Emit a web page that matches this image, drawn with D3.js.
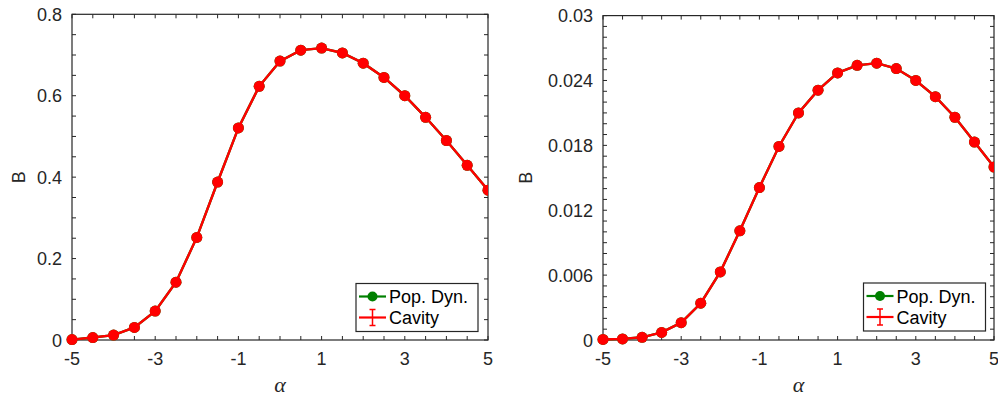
<!DOCTYPE html>
<html lang="en">
<head>
<meta charset="UTF-8">
<title>B vs alpha</title>
<script src="https://cdn.jsdelivr.net/npm/d3@7"></script>
<style>
    html, body { margin: 0; padding: 0; background: #fff; }
    svg { display: block; font-family: "Liberation Sans", Arial, sans-serif; }
</style>
</head>
<body>
<svg id="chart" width="998" height="399"></svg>
<script>
    // alpha values shared by both panels
    const alphas = [-5, -4.5, -4, -3.5, -3, -2.5, -2, -1.5, -1, -0.5, 0, 0.5, 1, 1.5, 2, 2.5, 3, 3.5, 4, 4.5, 5];

    // left panel
    const leftPop = [0.001, 0.006, 0.012, 0.031, 0.071, 0.142, 0.252, 0.388, 0.521, 0.623, 0.685, 0.712, 0.717, 0.705, 0.680, 0.645, 0.600, 0.547, 0.490, 0.429, 0.368];
    const leftCavity = [0.001, 0.006, 0.012, 0.031, 0.071, 0.142, 0.252, 0.388, 0.521, 0.623, 0.685, 0.712, 0.717, 0.705, 0.680, 0.645, 0.600, 0.547, 0.490, 0.429, 0.368];
    const leftYTicks = [0, 0.2, 0.4, 0.6, 0.8];

    // right panel
    const rightPop = [0.00005, 0.0001, 0.00025, 0.0007, 0.0016, 0.0034, 0.0063, 0.0101, 0.0141, 0.0179, 0.0210, 0.0231, 0.0247, 0.0254, 0.0256, 0.0251, 0.0240, 0.0225, 0.0206, 0.0183, 0.0160];
    const rightCavity = [0.00005, 0.0001, 0.00025, 0.0007, 0.0016, 0.0034, 0.0063, 0.0101, 0.0141, 0.0179, 0.0210, 0.0231, 0.0247, 0.0254, 0.0256, 0.0251, 0.0240, 0.0225, 0.0206, 0.0183, 0.0160];
    const rightYTicks = [0, 0.006, 0.012, 0.018, 0.024, 0.03];

    const xTicks = [-5, -3, -1, 1, 3, 5];
    const legendLabels = ['Pop. Dyn.', 'Cavity'];

    const svg = d3.select('#chart');
    const axisColor = '#262626';

    function drawPanel(opts) {
        const x = d3.scaleLinear().domain([-5, 5]).range([opts.left, opts.right]);
        const y = d3.scaleLinear().domain(opts.yDomain).range([opts.bottom, opts.top]);
        const g = svg.append('g');

        // minor ticks (inward, all four sides)
        const xMinor = d3.range(-5, 5.01, 0.5);
        const yMinor = d3.range(0, opts.yDomain[1] + opts.yMinorStep / 2, opts.yMinorStep);
        const tl = 4;
        xMinor.forEach(v => {
            g.append('line').attr('x1', x(v)).attr('x2', x(v)).attr('y1', opts.bottom).attr('y2', opts.bottom - tl)
                .attr('stroke', axisColor);
            g.append('line').attr('x1', x(v)).attr('x2', x(v)).attr('y1', opts.top).attr('y2', opts.top + tl)
                .attr('stroke', axisColor);
        });
        yMinor.forEach(v => {
            g.append('line').attr('x1', opts.left).attr('x2', opts.left + tl).attr('y1', y(v)).attr('y2', y(v))
                .attr('stroke', axisColor);
            g.append('line').attr('x1', opts.right).attr('x2', opts.right - tl).attr('y1', y(v)).attr('y2', y(v))
                .attr('stroke', axisColor);
        });

        // box
        g.append('rect').attr('x', opts.left).attr('y', opts.top)
            .attr('width', opts.right - opts.left).attr('height', opts.bottom - opts.top)
            .attr('fill', 'none').attr('stroke', axisColor).attr('stroke-width', 1.2);

        // tick labels
        g.selectAll('.xl').data(xTicks).enter().append('text')
            .attr('x', d => x(d)).attr('y', opts.bottom + 25)
            .attr('text-anchor', 'middle').attr('font-size', 18).attr('fill', axisColor)
            .text(d => d);
        g.selectAll('.yl').data(opts.yTicks).enter().append('text')
            .attr('x', opts.left - 10).attr('y', d => y(d) + 6.5)
            .attr('text-anchor', 'end').attr('font-size', 18).attr('fill', axisColor)
            .text(d => d === 0 ? '0' : d3.format(opts.yFmt)(d));

        // axis labels
        g.append('text')
            .attr('transform', `translate(${opts.yLabelX},${(opts.top + opts.bottom) / 2}) rotate(-90)`)
            .attr('text-anchor', 'middle').attr('font-size', 18).attr('fill', axisColor).text('B');
        g.append('text')
            .attr('x', (opts.left + opts.right) / 2).attr('y', 392)
            .attr('text-anchor', 'middle').attr('font-size', 22).attr('fill', axisColor)
            .attr('font-family', '"Liberation Serif", "DejaVu Serif", serif').attr('font-style', 'italic')
            .text('α');

        // clip to the axes box
        const clipId = 'clip' + opts.id;
        svg.append('clipPath').attr('id', clipId).append('rect')
            .attr('x', opts.left - 7).attr('y', opts.top)
            .attr('width', opts.right - opts.left + 7).attr('height', opts.bottom - opts.top + 7);

        const line = d3.line().x(d => x(d[0])).y(d => y(d[1]));
        const plot = svg.append('g').attr('clip-path', `url(#${clipId})`);

        const series = [
            { vals: opts.pop, color: '#008000' },
            { vals: opts.cav, color: '#ff0000' }
        ];
        series.forEach(s => {
            const pts = alphas.map((a, i) => [a, s.vals[i]]);
            plot.append('path').datum(pts).attr('d', line)
                .attr('fill', 'none').attr('stroke', s.color).attr('stroke-width', 2.4);
            plot.selectAll(null).data(pts).enter().append('circle')
                .attr('cx', d => x(d[0])).attr('cy', d => y(d[1])).attr('r', 5.5)
                .attr('fill', s.color);
        });

        // legend
        const lg = svg.append('g').attr('transform', `translate(${opts.legX},${opts.legY})`);
        lg.append('rect').attr('width', 122).attr('height', 48)
            .attr('fill', '#fff').attr('stroke', axisColor).attr('stroke-width', 1.2);
        const rows = [
            { color: '#008000', dy: 13 },
            { color: '#ff0000', dy: 34 }
        ];
        rows.forEach((r, i) => {
            lg.append('line').attr('x1', 3).attr('x2', 30).attr('y1', r.dy).attr('y2', r.dy)
                .attr('stroke', r.color).attr('stroke-width', 2.2);
            if (i === 0) {
                lg.append('circle').attr('cx', 16.5).attr('cy', r.dy).attr('r', 5).attr('fill', r.color);
            } else {
                lg.append('line').attr('x1', 16.5).attr('x2', 16.5).attr('y1', r.dy - 8).attr('y2', r.dy + 8)
                    .attr('stroke', r.color).attr('stroke-width', 1.5);
                lg.append('line').attr('x1', 13.5).attr('x2', 19.5).attr('y1', r.dy - 8).attr('y2', r.dy - 8)
                    .attr('stroke', r.color).attr('stroke-width', 1.5);
                lg.append('line').attr('x1', 13.5).attr('x2', 19.5).attr('y1', r.dy + 8).attr('y2', r.dy + 8)
                    .attr('stroke', r.color).attr('stroke-width', 1.5);
            }
            lg.append('text').attr('x', 33).attr('y', r.dy + 6.5)
                .attr('font-size', 18).attr('fill', '#000').text(legendLabels[i]);
        });
    }

    drawPanel({
        id: 'L', left: 72, right: 488, top: 14.3, bottom: 340,
        yDomain: [0, 0.8], yMinorStep: 0.05, yTicks: leftYTicks, yFmt: '.1f',
        pop: leftPop, cav: leftCavity, yLabelX: 25, legX: 356, legY: 283.5
    });
    drawPanel({
        id: 'R', left: 603, right: 994, top: 15.6, bottom: 340,
        yDomain: [0, 0.03], yMinorStep: 0.001, yTicks: rightYTicks, yFmt: '.3~f',
        pop: rightPop, cav: rightCavity, yLabelX: 532, legX: 863.5, legY: 283
    });
</script>
</body>
</html>
